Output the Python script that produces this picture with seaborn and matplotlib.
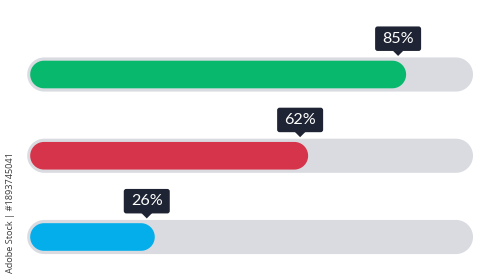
import matplotlib
matplotlib.use("Agg")
import matplotlib.pyplot as plt
import seaborn as sns
import pandas as pd
import numpy as np
from matplotlib.patches import FancyBboxPatch, Polygon
from matplotlib.transforms import IdentityTransform

# ---- data ----
categories = ["A", "B", "C"]
values = [85, 62, 26]
labels = ["85%", "62%", "26%"]
maximum = [100, 100, 100]
fill_colors = ["#08B86D", "#D6344A", "#03AEEB"]
track_color = "#D9DBE1"
tip_color = "#1E2433"
credit = "Adobe Stock | #1893745041"

sns.set_theme(style="white")
plt.rcParams["font.family"] = ["Lato", "DejaVu Sans"]

W, H, DPI = 500, 279, 100
fig = plt.figure(figsize=(W / DPI, H / DPI), dpi=DPI)
fig.patch.set_facecolor("white")
ax = fig.add_axes([0, 0, 1, 1])

df = pd.DataFrame({"cat": categories, "value": values, "full": maximum})
sns.barplot(data=df, x="full", y="cat", orient="h", color=track_color,
            width=0.42, ax=ax, saturation=1)
sns.barplot(data=df, x="value", y="cat", orient="h", hue="cat",
            palette=fill_colors, width=0.34, ax=ax, legend=False, saturation=1)
ax.set_xlim(-10.33, 107.04)
ax.set_ylim(2.517, -0.917)
ax.axis("off")

fig.canvas.draw()
ident = IdentityTransform()
track_pad = 3.0


def stadium(left, right, lo, hi, fc, z):
    r = (hi - lo) / 2
    cy = (hi + lo) / 2
    t1 = np.linspace(-np.pi / 2, np.pi / 2, 40)
    t2 = np.linspace(np.pi / 2, 3 * np.pi / 2, 40)
    xs = np.concatenate([right - r + r * np.cos(t1), left + r + r * np.cos(t2)])
    ys = np.concatenate([cy + r * np.sin(t1), cy + r * np.sin(t2)])
    fig.add_artist(Polygon(np.column_stack([xs, ys]), closed=True, transform=ident,
                           fc=fc, ec="none", zorder=z, antialiased=True))


tracks = []
fills = []
for p in list(ax.patches):
    x, y = p.get_x(), p.get_y()
    w, h = p.get_width(), p.get_height()
    (x0, y0) = ax.transData.transform((x, y + h))
    (x1, y1) = ax.transData.transform((x + w, y))
    lo, hi = min(y0, y1), max(y0, y1)
    entry = (x0, x1, lo, hi, p.get_facecolor())
    if h > 0.4:
        tracks.append(entry)
    else:
        fills.append(entry)
    p.set_visible(False)

fill_h = fills[0][3] - fills[0][2]
r_fill = fill_h / 2

for (x0, x1, lo, hi, fc) in tracks:
    stadium(x0 - r_fill - track_pad, x1 + track_pad, lo, hi, fc, 2)

for (x0, x1, lo, hi, fc) in fills:
    stadium(x0 - (hi - lo) / 2, x1, lo, hi, fc, 3)

# tooltips
box_w, box_h, tri_h, tri_w = 46, 24.5, 5.0, 5.5
for i, (v, lab) in enumerate(zip(values, labels)):
    px, cy = ax.transData.transform((v, i))
    px -= 8
    track_top = [t[3] for t in tracks if abs((t[2] + t[3]) / 2 - cy) < 5][0]
    tip_y = track_top + 1.5
    base = tip_y + tri_h
    fig.add_artist(Polygon([(px - tri_w, base + 0.5), (px + tri_w, base + 0.5), (px, tip_y)],
                           closed=True, transform=ident, fc=tip_color, ec="none", zorder=4))
    fig.add_artist(FancyBboxPatch((px - box_w / 2, base), box_w, box_h,
                                  boxstyle="round,pad=0,rounding_size=2.5",
                                  transform=ident, fc=tip_color, ec="none", zorder=4))
    fig.text(px / W, (base + box_h / 2) / H, lab, color="white", fontsize=11.6,
             ha="center", va="center", zorder=5)

fig.text(11 / W, (H - 213) / H, credit, rotation=90, fontsize=6.6, color="#3A3A3A",
         ha="center", va="center", family=["Open Sans", "DejaVu Sans"])

fig.savefig("out.png", dpi=DPI, facecolor="white")
